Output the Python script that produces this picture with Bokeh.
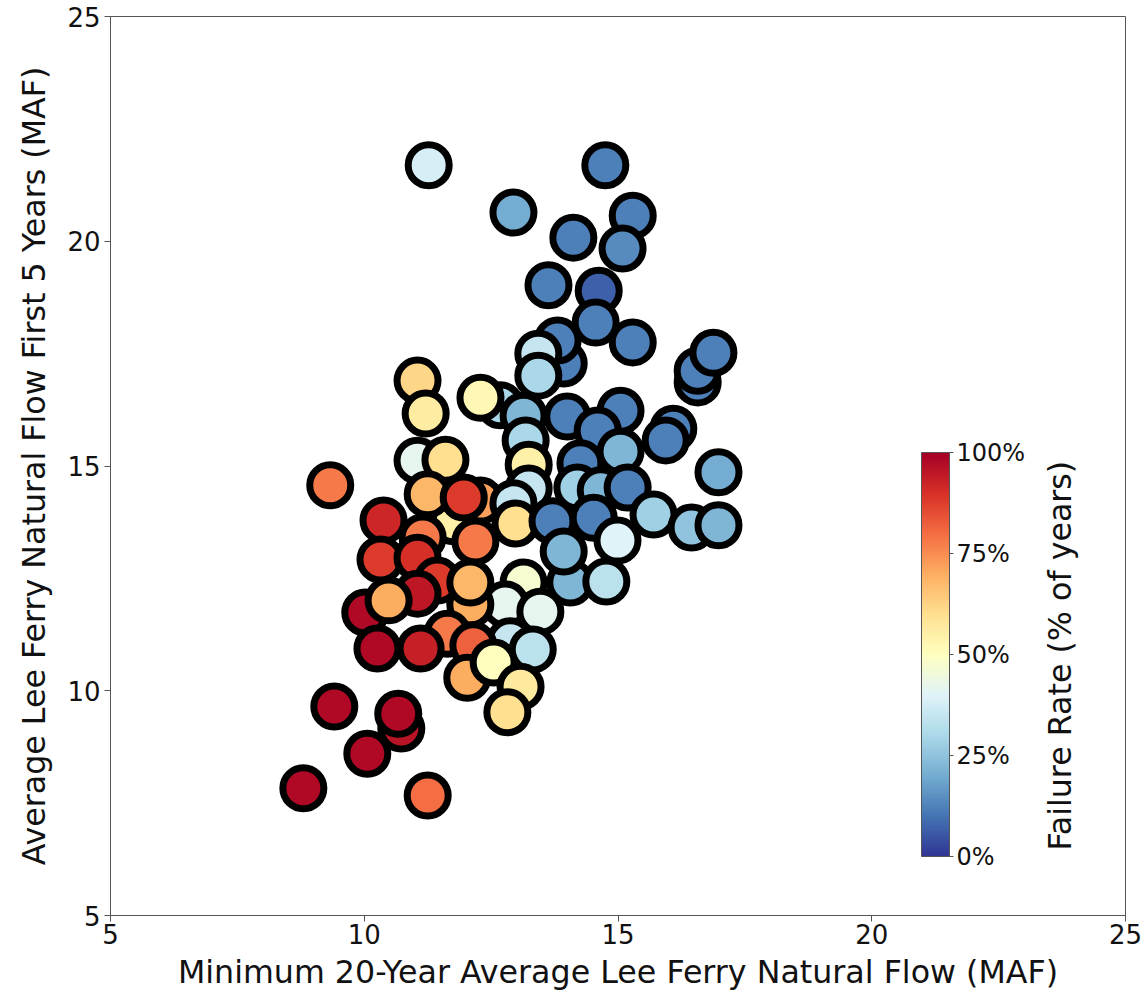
import numpy as np
from bokeh.plotting import figure
from bokeh.models import ColumnDataSource, LinearColorMapper, ColorBar, FixedTicker, PrintfTickFormatter, Label
from bokeh.embed import file_html
from bokeh.resources import INLINE

# Minimum 20-year average Lee Ferry natural flow (MAF)
min20 = [13.93, 12.68, 12.29, 11.76, 14.06, 11.27, 14.75, 12.94, 15.29, 14.12, 15.09, 13.63,
         14.62, 14.56, 15.29, 13.81, 16.57, 16.57, 16.88, 13.43, 13.43, 11.05, 11.21, 12.29,
         13.14, 14.00, 15.05, 14.60, 16.09, 15.94, 15.05, 16.98, 13.18, 13.24, 14.26, 14.20,
         14.66, 15.19, 13.24, 12.94, 12.98, 13.71, 14.52, 14.99, 15.70, 16.45, 16.98, 13.93,
         14.77, 13.14, 12.78, 13.47, 12.88, 13.32, 9.33, 11.05, 11.60, 11.25, 11.96, 10.38,
         11.15, 12.19, 10.32, 11.05, 11.44, 11.05, 10.02, 10.48, 12.09, 12.09, 11.64, 10.26,
         11.11, 12.15, 12.03, 12.55, 13.08, 12.82, 9.41, 10.73, 10.67, 10.06, 8.80, 11.25]
# Average Lee Ferry natural flow, first 5 years (MAF)
first5 = [17.28, 16.35, 14.23, 13.77, 12.41, 21.69, 21.69, 20.64, 20.57, 20.08, 19.84, 19.02,
          18.90, 18.19, 17.75, 17.79, 16.86, 17.12, 17.52, 17.50, 17.01, 16.90, 16.17, 16.52,
          16.12, 16.10, 16.23, 15.79, 15.83, 15.57, 15.32, 14.86, 15.57, 15.03, 15.06, 14.52,
          14.46, 14.52, 14.50, 14.17, 13.72, 13.77, 13.85, 13.34, 13.92, 13.63, 13.68, 13.10,
          12.43, 12.41, 11.92, 11.76, 11.10, 10.92, 14.57, 15.12, 15.14, 14.37, 14.30, 13.79,
          13.41, 13.32, 12.92, 12.96, 12.45, 12.16, 11.74, 12.01, 11.92, 12.41, 11.27, 10.94,
          10.94, 11.01, 10.29, 10.63, 10.09, 9.52, 9.65, 9.16, 9.49, 8.60, 7.83, 7.67]
# Failure rate (% of years)
failure = [12, 30, 72, 55, 22, 38, 12, 20, 12, 12, 14, 12,
           7, 12, 12, 12, 12, 12, 12, 35, 30, 62, 56, 52,
           22, 12, 12, 12, 12, 12, 22, 20, 30, 55, 12, 28,
           22, 12, 35, 35, 60, 12, 12, 40, 28, 25, 22, 22,
           33, 47, 42, 42, 35, 33, 78, 42, 60, 68, 88, 92,
           78, 78, 88, 90, 88, 95, 98, 70, 70, 68, 78, 98,
           93, 82, 70, 50, 57, 60, 98, 96, 98, 98, 98, 80]

x_ticks = [5, 10, 15, 20, 25]
y_ticks = [5, 10, 15, 20, 25]
cbar_ticks = [0, 25, 50, 75, 100]

# RdYlBu_r continuous palette
anchors = ["#313695", "#4575b4", "#74add1", "#abd9e9", "#e0f3f8", "#ffffbf",
           "#fee090", "#fdae61", "#f46d43", "#d73027", "#a50026"]
def hex2rgb(h):
    return [int(h[i:i + 2], 16) for i in (1, 3, 5)]
rgb = np.array([hex2rgb(h) for h in anchors], dtype=float)
pos = np.linspace(0, 1, len(anchors))
t = np.linspace(0, 1, 256)
palette = ["#%02x%02x%02x" % tuple(int(round(np.interp(tt, pos, rgb[:, k]))) for k in range(3)) for tt in t]

mapper = LinearColorMapper(palette=palette, low=0, high=100)
src = ColumnDataSource(dict(x=min20, y=first5, f=failure))

FONT = "DejaVu Sans"
p = figure(width=1143, height=993, output_backend="svg", toolbar_location=None,
           x_range=(5, 25), y_range=(5, 25),
           min_border_left=110, min_border_right=18, min_border_top=16, min_border_bottom=78)
p.grid.visible = False
p.outline_line_color = "#555555"
p.outline_line_width = 1

p.scatter("x", "y", source=src, size=41, line_width=7, line_color="black",
          fill_color={"field": "f", "transform": mapper})

for ax in (p.xaxis, p.yaxis):
    ax.axis_line_color = "#555555"
    ax.major_tick_line_color = "#555555"
    ax.major_tick_in = 0
    ax.major_tick_out = 6
    ax.minor_tick_line_color = None
    ax.major_label_text_font = FONT
    ax.major_label_text_font_size = "26px"
    ax.major_label_text_color = "#111111"
    ax.axis_label_text_font = FONT
    ax.axis_label_text_font_size = "31.7px"
    ax.axis_label_text_font_style = "normal"
    ax.axis_label_text_color = "#111111"
p.xaxis.ticker = FixedTicker(ticks=x_ticks)
p.yaxis.ticker = FixedTicker(ticks=y_ticks)
p.xaxis.axis_label = "Minimum 20-Year Average Lee Ferry Natural Flow (MAF)"
p.yaxis.axis_label = "Average Lee Ferry Natural Flow First 5 Years (MAF)"
p.xaxis.major_label_standoff = 2
p.yaxis.major_label_standoff = 4
p.xaxis.axis_label_standoff = 7
p.yaxis.axis_label_standoff = 12

cb = ColorBar(color_mapper=mapper, location=(811, 59), width=28, height=404,
              padding=0, ticker=FixedTicker(ticks=cbar_ticks),
              formatter=PrintfTickFormatter(format="%d%%"),
              major_label_text_font=FONT, major_label_text_font_size="24px",
              major_label_text_color="#111111",
              major_tick_in=0, major_tick_out=4, major_tick_line_color="#555555",
              bar_line_color="#555555", border_line_color=None,
              background_fill_alpha=0, label_standoff=3)
p.add_layout(cb, "center")

p.add_layout(Label(x=23.70, y=10.78, text="Failure Rate (% of years)", angle=np.pi / 2,
                   text_align="center", text_baseline="middle", text_font=FONT,
                   text_font_size="31.7px", text_color="#111111"))

open("out.html", "w").write(file_html(p, INLINE))
